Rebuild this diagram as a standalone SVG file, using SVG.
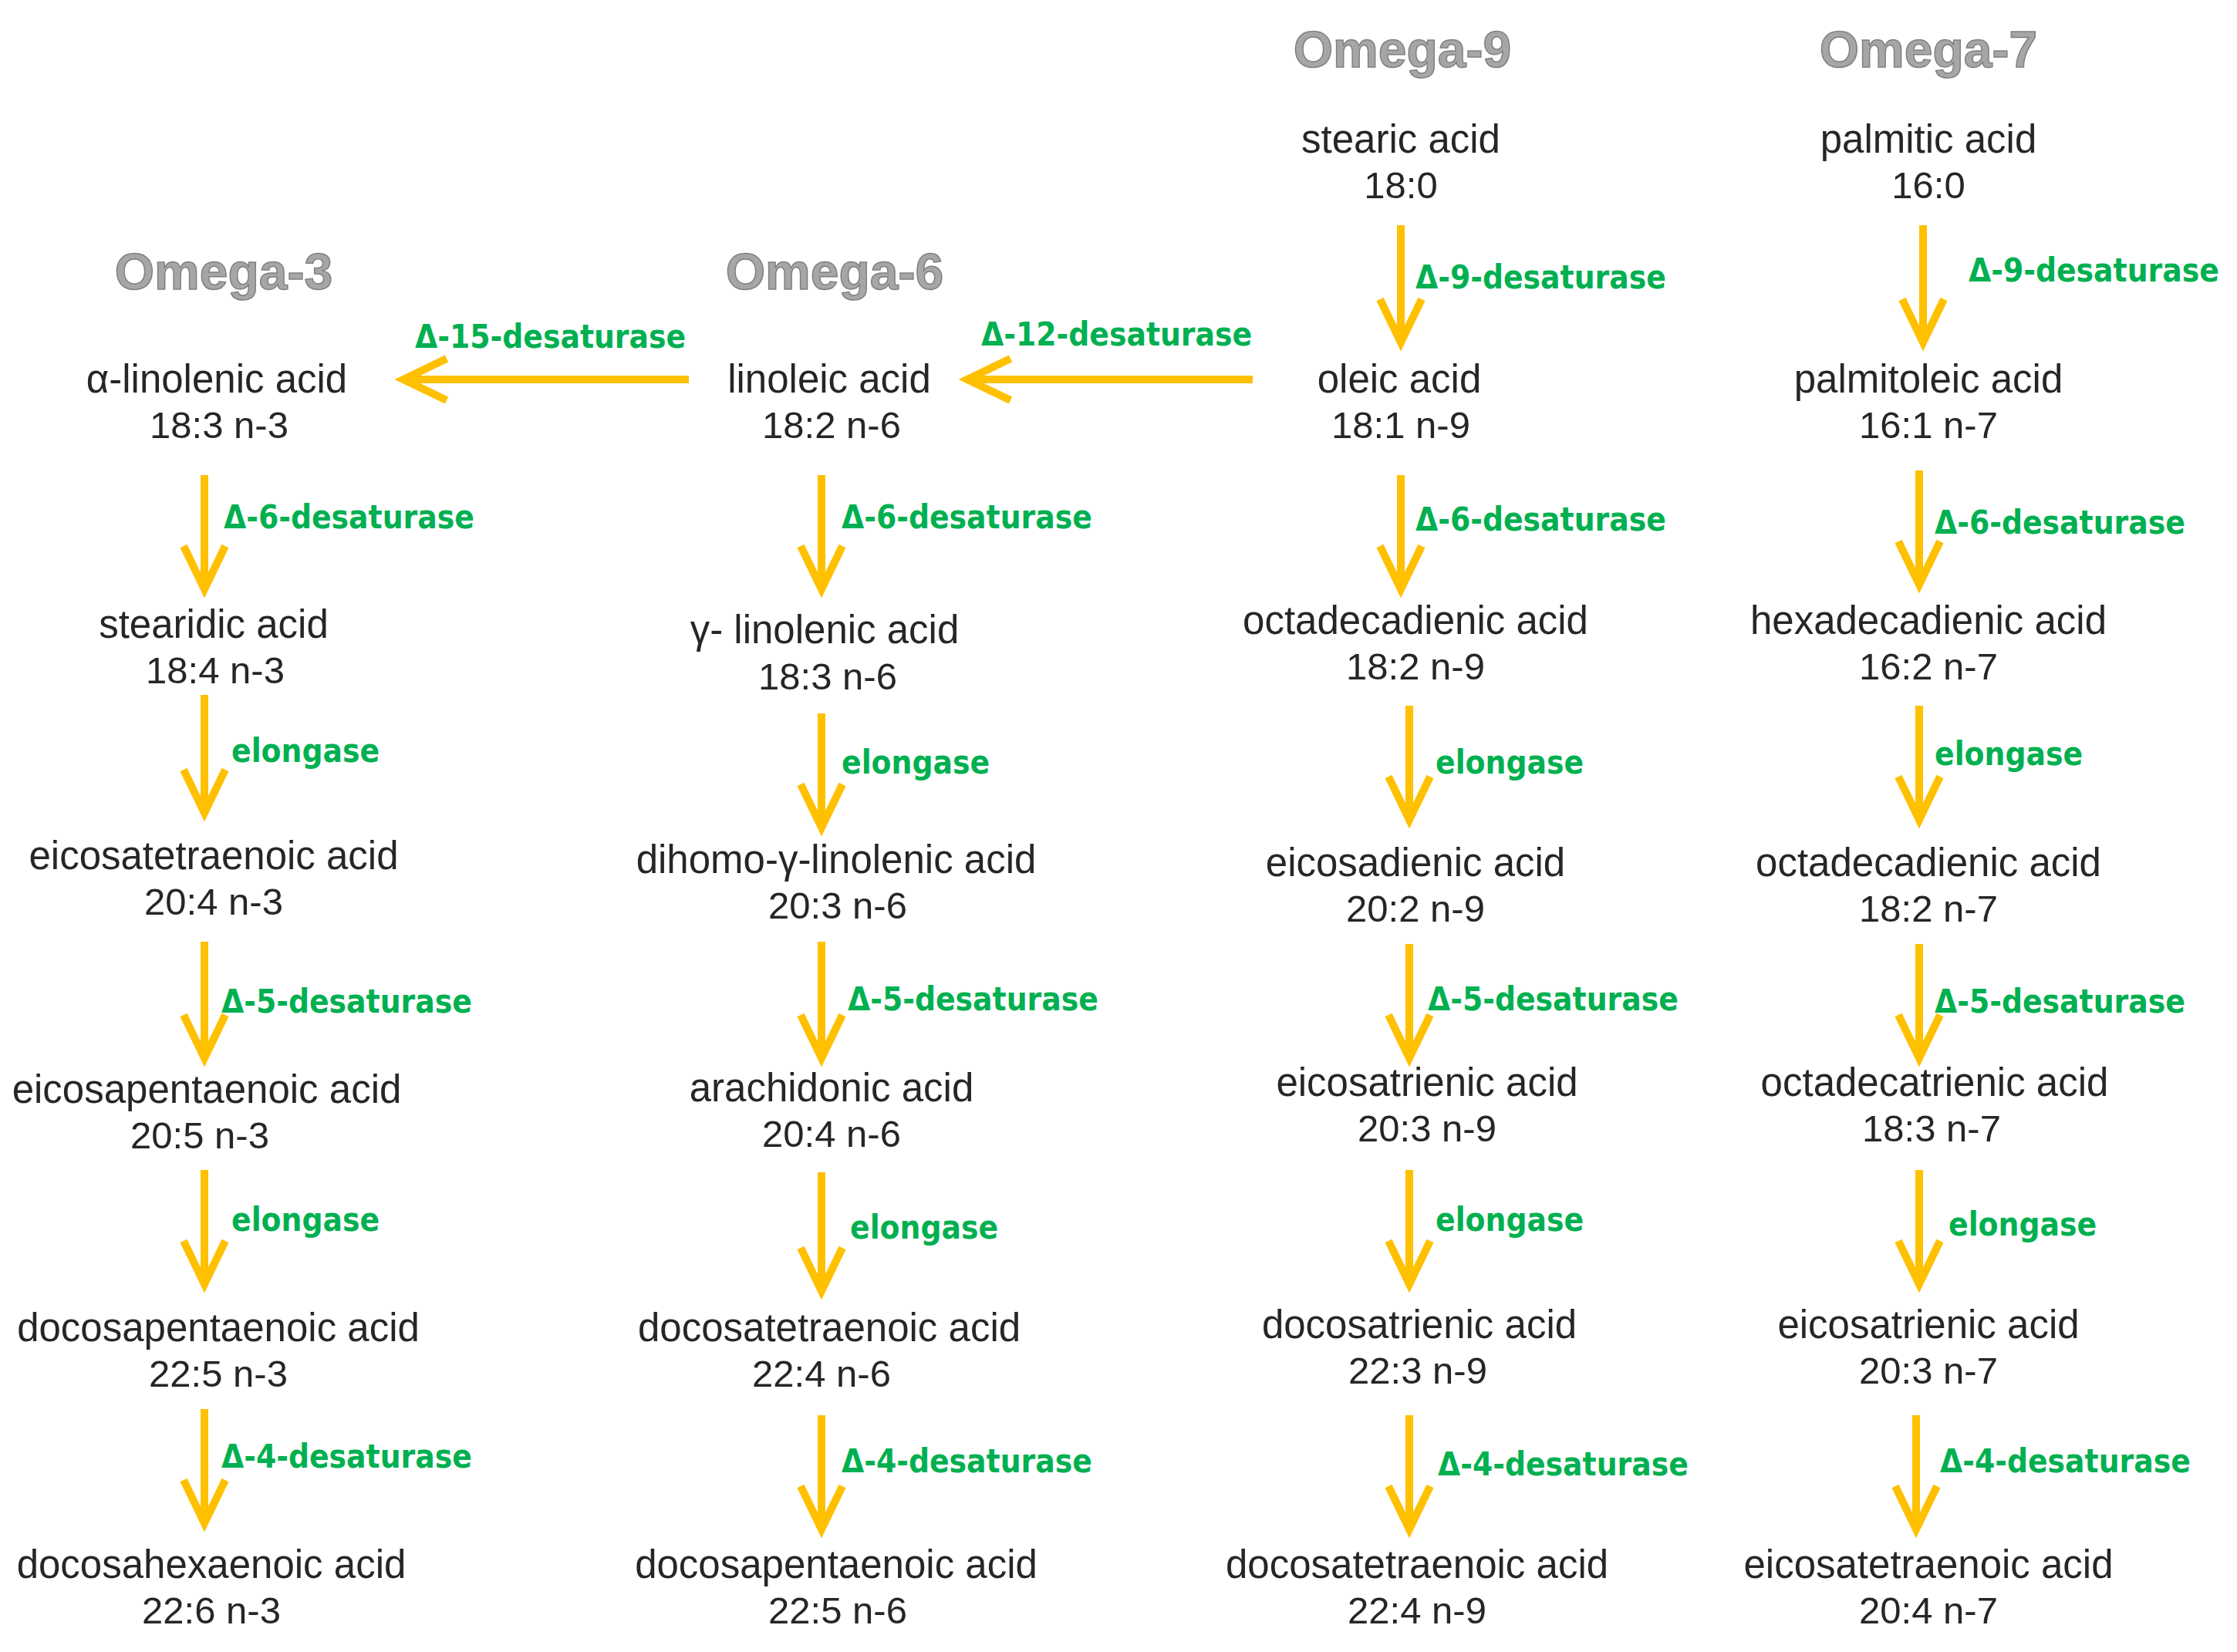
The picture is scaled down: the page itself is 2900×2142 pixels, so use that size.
<svg xmlns="http://www.w3.org/2000/svg" width="2900" height="2142" viewBox="0 0 2900 2142">
<style>
.n{font-family:"Liberation Sans",Arial,sans-serif;font-size:51px;fill:#262626;text-anchor:middle}
.f{font-family:"Liberation Sans",Arial,sans-serif;font-size:49px;fill:#262626;text-anchor:middle}
.l{font-family:"DejaVu Sans Condensed","DejaVu Sans",sans-serif;font-stretch:condensed;font-weight:bold;font-size:42px;fill:#00B050}
.h{font-family:"Liberation Sans",Arial,sans-serif;font-weight:bold;font-size:66px;fill:#a6a6a6;stroke:#808080;stroke-width:1.5;text-anchor:middle}
.a{stroke:#FFC000;stroke-width:10;fill:none;stroke-linejoin:miter}
</style>
<rect width="2900" height="2142" fill="#ffffff"/>
<g id="headings">
<text class="h" x="290" y="375">Omega-3</text>
<text class="h" x="1082" y="375">Omega-6</text>
<text class="h" x="1818" y="87">Omega-9</text>
<text class="h" x="2500" y="87">Omega-7</text>
</g>
<g id="n9-0"><text class="n" x="1816" y="198">stearic acid</text><text class="f" x="1816" y="257">18:0</text></g>
<g id="n7-0"><text class="n" x="2500" y="198">palmitic acid</text><text class="f" x="2500" y="257">16:0</text></g>
<g id="n3-1"><text class="n" x="281" y="509">α-linolenic acid</text><text class="f" x="284" y="568">18:3 n-3</text></g>
<g id="n6-1"><text class="n" x="1075" y="509">linoleic acid</text><text class="f" x="1078" y="568">18:2 n-6</text></g>
<g id="n9-1"><text class="n" x="1814" y="509">oleic acid</text><text class="f" x="1816" y="568">18:1 n-9</text></g>
<g id="n7-1"><text class="n" x="2500" y="509">palmitoleic acid</text><text class="f" x="2500" y="568">16:1 n-7</text></g>
<g id="n3-2"><text class="n" x="277" y="827">stearidic acid</text><text class="f" x="279" y="886">18:4 n-3</text></g>
<g id="n6-2"><text class="n" x="1069" y="834">γ- linolenic acid</text><text class="f" x="1073" y="894">18:3 n-6</text></g>
<g id="n9-2"><text class="n" x="1835" y="822">octadecadienic acid</text><text class="f" x="1835" y="881">18:2 n-9</text></g>
<g id="n7-2"><text class="n" x="2500" y="822">hexadecadienic acid</text><text class="f" x="2500" y="881">16:2 n-7</text></g>
<g id="n3-3"><text class="n" x="277" y="1127">eicosatetraenoic acid</text><text class="f" x="277" y="1186">20:4 n-3</text></g>
<g id="n6-3"><text class="n" x="1084" y="1132">dihomo-γ-linolenic  acid</text><text class="f" x="1086" y="1191">20:3 n-6</text></g>
<g id="n9-3"><text class="n" x="1835" y="1136">eicosadienic acid</text><text class="f" x="1835" y="1195">20:2 n-9</text></g>
<g id="n7-3"><text class="n" x="2500" y="1136">octadecadienic acid</text><text class="f" x="2500" y="1195">18:2 n-7</text></g>
<g id="n3-4"><text class="n" x="268" y="1430">eicosapentaenoic acid</text><text class="f" x="259" y="1489">20:5 n-3</text></g>
<g id="n6-4"><text class="n" x="1078" y="1428">arachidonic acid</text><text class="f" x="1078" y="1487">20:4 n-6</text></g>
<g id="n9-4"><text class="n" x="1850" y="1421">eicosatrienic acid</text><text class="f" x="1850" y="1480">20:3 n-9</text></g>
<g id="n7-4"><text class="n" x="2508" y="1421">octadecatrienic acid</text><text class="f" x="2504" y="1480">18:3 n-7</text></g>
<g id="n3-5"><text class="n" x="283" y="1739">docosapentaenoic acid</text><text class="f" x="283" y="1798">22:5 n-3</text></g>
<g id="n6-5"><text class="n" x="1075" y="1739">docosatetraenoic acid</text><text class="f" x="1065" y="1798">22:4 n-6</text></g>
<g id="n9-5"><text class="n" x="1840" y="1735">docosatrienic acid</text><text class="f" x="1838" y="1794">22:3 n-9</text></g>
<g id="n7-5"><text class="n" x="2500" y="1735">eicosatrienic acid</text><text class="f" x="2500" y="1794">20:3 n-7</text></g>
<g id="n3-6"><text class="n" x="274" y="2046">docosahexaenoic acid</text><text class="f" x="274" y="2105">22:6 n-3</text></g>
<g id="n6-6"><text class="n" x="1084" y="2046">docosapentaenoic acid</text><text class="f" x="1086" y="2105">22:5 n-6</text></g>
<g id="n9-6"><text class="n" x="1837" y="2046">docosatetraenoic acid</text><text class="f" x="1837" y="2105">22:4 n-9</text></g>
<g id="n7-6"><text class="n" x="2500" y="2046">eicosatetraenoic acid</text><text class="f" x="2500" y="2105">20:4 n-7</text></g>
<g id="connectors">
<path class="a" d="M893 492H523M579 465L523 492L579 519"/>
<path class="a" d="M1624 492H1254M1310 465L1254 492L1310 519"/>
<path class="a" d="M265 616V764M238 708L265 764L292 708"/>
<path class="a" d="M265 901V1054M238 998L265 1054L292 998"/>
<path class="a" d="M265 1221V1372M238 1316L265 1372L292 1316"/>
<path class="a" d="M265 1517V1665M238 1609L265 1665L292 1609"/>
<path class="a" d="M265 1827V1975M238 1919L265 1975L292 1919"/>
<path class="a" d="M1065 616V764M1038 708L1065 764L1092 708"/>
<path class="a" d="M1065 925V1073M1038 1017L1065 1073L1092 1017"/>
<path class="a" d="M1065 1221V1372M1038 1316L1065 1372L1092 1316"/>
<path class="a" d="M1065 1520V1674M1038 1618L1065 1674L1092 1618"/>
<path class="a" d="M1065 1835V1983M1038 1927L1065 1983L1092 1927"/>
<path class="a" d="M1816 292V444M1789 388L1816 444L1843 388"/>
<path class="a" d="M1816 616V764M1789 708L1816 764L1843 708"/>
<path class="a" d="M1827 915V1063M1800 1007L1827 1063L1854 1007"/>
<path class="a" d="M1827 1224V1372M1800 1316L1827 1372L1854 1316"/>
<path class="a" d="M1827 1517V1665M1800 1609L1827 1665L1854 1609"/>
<path class="a" d="M1827 1835V1983M1800 1927L1827 1983L1854 1927"/>
<path class="a" d="M2493 292V444M2466 388L2493 444L2520 388"/>
<path class="a" d="M2488 610V758M2461 702L2488 758L2515 702"/>
<path class="a" d="M2488 915V1063M2461 1007L2488 1063L2515 1007"/>
<path class="a" d="M2488 1224V1372M2461 1316L2488 1372L2515 1316"/>
<path class="a" d="M2488 1517V1665M2461 1609L2488 1665L2515 1609"/>
<path class="a" d="M2484 1835V1983M2457 1927L2484 1983L2511 1927"/>
</g>
<g id="labels">
<text class="l" x="538" y="451">Δ-15-desaturase</text>
<text class="l" x="1272" y="448">Δ-12-desaturase</text>
<text class="l" x="290" y="685">Δ-6-desaturase</text>
<text class="l" x="300" y="988">elongase</text>
<text class="l" x="287" y="1313">Δ-5-desaturase</text>
<text class="l" x="300" y="1596">elongase</text>
<text class="l" x="287" y="1903">Δ-4-desaturase</text>
<text class="l" x="1091" y="685">Δ-6-desaturase</text>
<text class="l" x="1091" y="1003">elongase</text>
<text class="l" x="1099" y="1310">Δ-5-desaturase</text>
<text class="l" x="1102" y="1606">elongase</text>
<text class="l" x="1091" y="1909">Δ-4-desaturase</text>
<text class="l" x="1835" y="374">Δ-9-desaturase</text>
<text class="l" x="1835" y="688">Δ-6-desaturase</text>
<text class="l" x="1861" y="1003">elongase</text>
<text class="l" x="1851" y="1310">Δ-5-desaturase</text>
<text class="l" x="1861" y="1596">elongase</text>
<text class="l" x="1864" y="1913">Δ-4-desaturase</text>
<text class="l" x="2552" y="365">Δ-9-desaturase</text>
<text class="l" x="2508" y="692">Δ-6-desaturase</text>
<text class="l" x="2508" y="992">elongase</text>
<text class="l" x="2508" y="1313">Δ-5-desaturase</text>
<text class="l" x="2526" y="1602">elongase</text>
<text class="l" x="2515" y="1909">Δ-4-desaturase</text>
</g>
</svg>
